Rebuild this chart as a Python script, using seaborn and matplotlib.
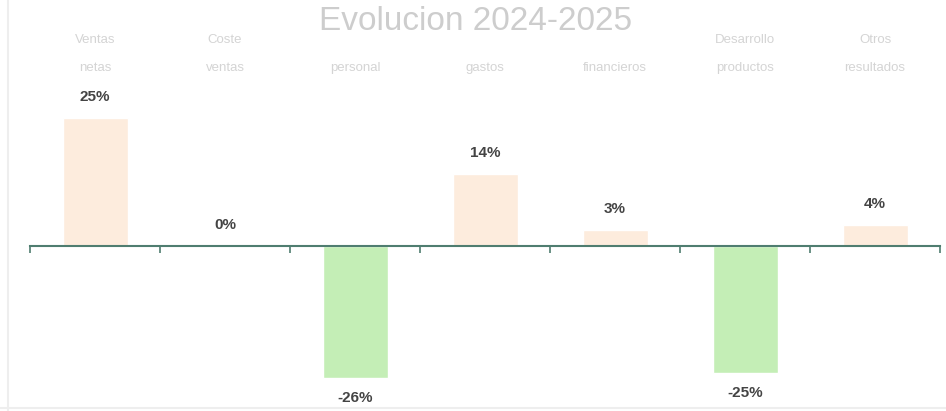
import matplotlib
matplotlib.use("Agg")
import matplotlib.pyplot as plt
import seaborn as sns
import pandas as pd
from matplotlib.lines import Line2D

categories = ["Ventas\nnetas", "Coste\nventas", "Gastos\npersonal", "Otros\ngastos",
              "Gastos\nfinancieros", "Desarrollo\nproductos", "Otros\nresultados"]
values = [25, 0, -26, 14, 3, -25, 4]
title = "Evolucion 2024-2025"

df = pd.DataFrame({"cat": categories, "val": values})
df["sign"] = ["neg" if v < 0 else "pos" for v in values]

sns.set_style("white")
plt.rcParams["font.family"] = ["Liberation Sans", "DejaVu Sans"]

fig = plt.figure(figsize=(9.46, 4.11), dpi=100)
ax = fig.add_axes([30 / 946, 0, 910 / 946, 1])

sns.barplot(data=df, x="cat", y="val", hue="sign", order=categories,
            palette={"pos": "#fdecdd", "neg": "#c4eeb6"}, width=0.5,
            dodge=False, legend=False, ax=ax, saturation=1)

ax.set_xlim(-0.5, 6.5)
ax.set_ylim(-32.4, 48.2)
for s in ["top", "right", "left"]:
    ax.spines[s].set_visible(False)
ax.spines["bottom"].set_position(("data", 0))
ax.spines["bottom"].set_color("#4f7d70")
ax.spines["bottom"].set_linewidth(1.5)
ax.set_xticks([i - 0.5 for i in range(8)])
ax.set_xticklabels([])
ax.tick_params(axis="x", length=5, width=1.2, color="#4f7d70", direction="out", bottom=True)
ax.set_yticks([])
ax.set_xlabel("")
ax.set_ylabel("")

for i, (c, v) in enumerate(zip(categories, values)):
    l1, l2 = c.split("\n")
    if i not in (2, 3, 4):
        ax.text(i, 40.4, l1, ha="center", va="center", fontsize=9.5, color="#d4d4d4")
    ax.text(i, 34.9, l2, ha="center", va="center", fontsize=9.5, color="#d4d4d4")
    if v >= 0:
        ax.text(i, v + 2.8, f"{v}%", ha="center", va="bottom", fontsize=11,
                fontweight="bold", color="#444444")
    else:
        ax.text(i, v - 2.4, f"{v}%", ha="center", va="top", fontsize=11,
                fontweight="bold", color="#444444")

fig.text(476 / 946, 1 - 22 / 411, title, ha="center", va="center", fontsize=24,
         color="#cdcdcd")

fig.add_artist(Line2D([8 / 946, 8 / 946], [0, 1], color="#eeeeee", lw=1.5,
                      transform=fig.transFigure))
fig.add_artist(Line2D([0, 1], [3 / 411, 3 / 411], color="#eeeeee", lw=1.5,
                      transform=fig.transFigure))

fig.savefig("out.png", dpi=100)
